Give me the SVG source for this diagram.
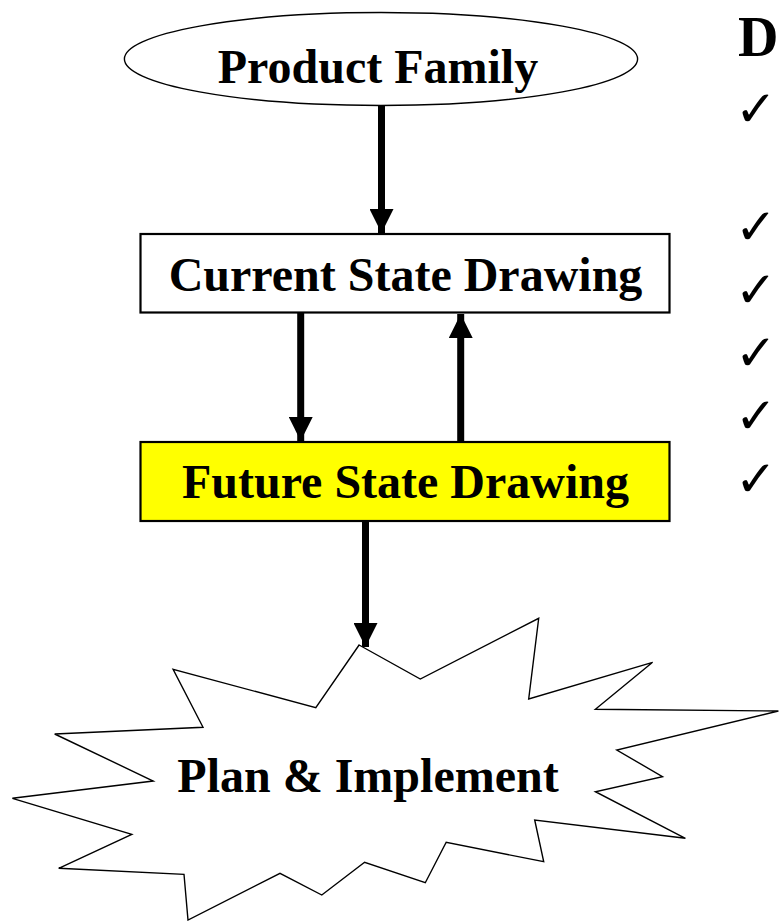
<svg xmlns="http://www.w3.org/2000/svg" width="780" height="921" viewBox="0 0 780 921">
<style>
.lbl{font-family:"Liberation Serif","Times New Roman",serif;font-weight:bold;font-size:48px;fill:#000;text-anchor:middle}
.box{stroke:#000;stroke-width:2.2}
.thin{fill:#fff;stroke:#000;stroke-width:1.4}
.conn{stroke:#000;stroke-width:7;fill:none}
.chk{font-family:"DejaVu Sans",sans-serif;font-weight:bold;font-size:50px;fill:#000}
</style>
<defs>
<marker id="ah" markerUnits="userSpaceOnUse" markerWidth="24" markerHeight="24" refX="24" refY="12" orient="auto" viewBox="0 0 24 24">
<path d="M0,0 L24,12 L0,24 Z" fill="#000"/>
</marker>
</defs>
<rect width="780" height="921" fill="#fff"/>
<g id="connectors">
<line class="conn" x1="381.5" y1="105" x2="381.5" y2="233" marker-end="url(#ah)"/>
<line class="conn" x1="300.7" y1="313" x2="300.7" y2="441" marker-end="url(#ah)"/>
<line class="conn" x1="460.7" y1="441" x2="460.7" y2="314" marker-end="url(#ah)"/>
<line class="conn" x1="365.5" y1="521" x2="365.5" y2="647" marker-end="url(#ah)"/>
</g>
<g id="product-family">
<ellipse class="thin" cx="381" cy="59" rx="256.6" ry="46.5"/>
<text class="lbl" x="378" y="83">Product Family</text>
</g>
<g id="current-state">
<rect class="box" x="140.5" y="234" width="529" height="78.5" fill="#fff"/>
<text class="lbl" x="405.5" y="291">Current State Drawing</text>
</g>
<g id="future-state">
<rect class="box" x="140.5" y="442" width="529" height="79" fill="#ffff00"/>
<text class="lbl" x="405.5" y="498">Future State Drawing</text>
</g>
<g id="plan-implement">
<polygon class="thin" points="359.1,645 420.3,679 538.7,618.3 528.7,699 652.6,662.3 595.4,709.3 778.4,711 616.8,750 662.5,776.7 595.4,791.7 685.4,838.3 534.7,820 543.7,861.7 446.2,842.3 425.3,882.7 364.6,862.3 321.8,895 280,873.3 188,920 184,874.3 58.7,868.3 131.8,834.3 12.4,798.3 153.2,781 54.7,734 203,727.3 173.1,669.3 315.8,707.7"/>
<text class="lbl" x="368" y="792">Plan &amp; Implement</text>
</g>
<g id="side-list">
<text x="738" y="56" style="font-family:'Liberation Serif','Times New Roman',serif;font-weight:bold;font-size:56px">D</text>
<text class="chk" x="735" y="126">✓</text>
<text class="chk" x="735" y="244">✓</text>
<text class="chk" x="735" y="307">✓</text>
<text class="chk" x="735" y="370">✓</text>
<text class="chk" x="735" y="433">✓</text>
<text class="chk" x="735" y="496">✓</text>
</g>
</svg>
